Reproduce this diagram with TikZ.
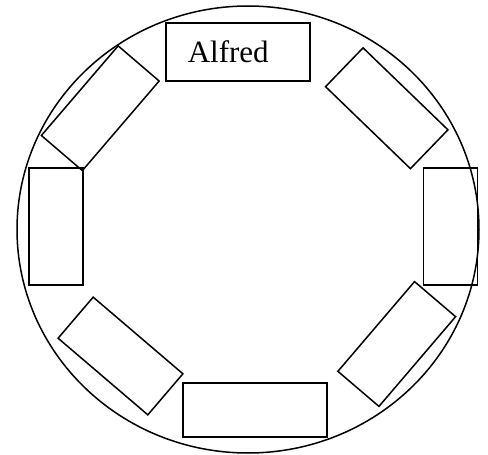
\documentclass[tikz,border=0pt]{standalone}
\usepackage{fontspec}
\setmainfont{Liberation Serif}
\begin{document}
\begin{tikzpicture}[x=1pt,y=-1pt,line width=1.5pt,
  seat/.style={draw,inner sep=0pt,minimum width=118pt,minimum height=54pt},
  sideseat/.style={draw,inner sep=0pt,minimum width=54pt,minimum height=117pt},
  endseat/.style={draw,inner sep=0pt,minimum width=144pt}]
\useasboundingbox (0,0) rectangle (488,455);
\draw (248,229.5) ellipse [x radius=231pt, y radius=223.5pt];
\node[endseat,minimum height=58pt] (top) at (238,52) {};
\node[anchor=base west,font=\fontsize{31}{31}\selectfont,inner sep=0pt] (alf) at (187,62) {Alfred};
\node[seat,rotate=-44] (tr) at (386.75,108.25) {};
\node[sideseat] (right) at (450.5,226.5) {};
\node[seat,rotate=49.5] (br) at (396.75,344) {};
\node[endseat,minimum height=54pt] (bottom) at (255,410) {};
\node[seat,rotate=-40.5] (bl) at (120.5,356) {};
\node[sideseat] (left) at (56,226.5) {};
\node[seat,rotate=49.4] (tl) at (100.25,108.25) {};
\end{tikzpicture}
\end{document}
